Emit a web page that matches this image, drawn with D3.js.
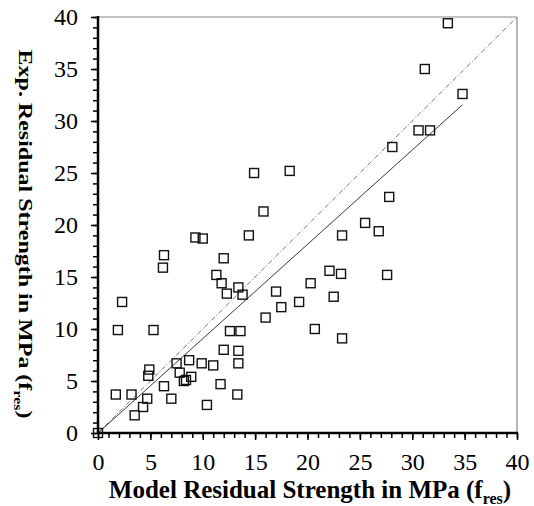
<!DOCTYPE html>
<meta charset="utf-8">
<style>
    body { margin: 0; background: #fff; }
    .tickLabel { font-family: "Liberation Serif", serif; font-size: 24px; }
    .axisTitle { font-family: "Liberation Serif", serif; font-weight: bold; font-size: 25px; text-anchor: middle; }
</style>
<body>
<script src="https://d3js.org/d3.v7.min.js"></script>
<script>
    // model (x) vs experimental (y) residual strength, MPa
    let modelRes = [9.3, 10.0, 14.4, 6.3, 6.2, 12.0, 11.3, 11.8, 13.4, 12.3, 13.8, 2.3,
        17.0, 17.5, 19.2, 20.3, 16.0, 1.9, 5.3, 12.6, 13.6, 12.0, 13.4, 7.5,
        8.7, 9.9, 11.0, 13.4, 4.9, 4.8, 7.8, 8.2, 8.4, 8.9, 6.3, 11.7,
        1.7, 3.2, 4.7, 7.0, 13.3, 4.3, 10.4, 3.5, 0.0,
        25.5, 26.8, 23.3, 22.1, 23.2, 27.6, 22.5, 20.7, 23.3,
        33.4, 31.2, 34.8, 30.6, 31.7, 28.1, 27.8, 14.9, 18.3, 15.8];
    let expRes = [18.8, 18.7, 19.0, 17.1, 15.9, 16.8, 15.2, 14.4, 14.0, 13.4, 13.3, 12.6,
        13.6, 12.1, 12.6, 14.4, 11.1, 9.9, 9.9, 9.8, 9.8, 8.0, 7.9, 6.7,
        7.0, 6.7, 6.5, 6.7, 6.1, 5.5, 5.8, 5.0, 5.1, 5.4, 4.5, 4.7,
        3.7, 3.7, 3.3, 3.3, 3.7, 2.5, 2.7, 1.7, 0.0,
        20.2, 19.4, 19.0, 15.6, 15.3, 15.2, 13.1, 10.0, 9.1,
        39.4, 35.0, 32.6, 29.1, 29.1, 27.5, 22.7, 25.0, 25.2, 21.3];
    let trendSlope = 0.907;
    let trendEnd = 34.8;
    let majorTicks = [0, 5, 10, 15, 20, 25, 30, 35, 40];
    let minorTicks = d3.range(0, 41, 1);

    let width = 534, height = 506;
    let x0 = 98, x1 = 517, yTop = 17, yBottom = 433;

    let svg = d3.select("body").append("svg")
        .attr("width", width)
        .attr("height", height);

    let x = d3.scaleLinear().domain([0, 40]).range([x0, x1]);
    let y = d3.scaleLinear().domain([0, 40]).range([yBottom, yTop]);

    // box: thin grey top/right
    svg.append("line").attr("x1", x0).attr("x2", x1).attr("y1", yTop).attr("y2", yTop)
        .attr("stroke", "#858585").attr("stroke-width", 1.2);
    svg.append("line").attr("x1", x1).attr("x2", x1).attr("y1", yTop).attr("y2", yBottom)
        .attr("stroke", "#858585").attr("stroke-width", 1.2);

    // 1:1 line
    svg.append("line")
        .attr("x1", x(0)).attr("y1", y(0)).attr("x2", x(40)).attr("y2", y(40))
        .attr("stroke", "#666").attr("stroke-width", 0.9)
        .attr("stroke-dasharray", "5,2,1,2");

    // trend line
    svg.append("line")
        .attr("x1", x(0)).attr("y1", y(0)).attr("x2", x(trendEnd)).attr("y2", y(trendSlope * trendEnd))
        .attr("stroke", "#222").attr("stroke-width", 0.9);

    // points
    let data = modelRes.map(function(d, i){ return {x: d, y: expRes[i]}; });
    let s = 9;
    svg.append("g").selectAll("rect")
        .data(data)
        .join("rect")
            .attr("x", function(d){ return x(d.x) - s/2; })
            .attr("y", function(d){ return y(d.y) - s/2; })
            .attr("width", s)
            .attr("height", s)
            .attr("fill", "none")
            .attr("stroke", "#111")
            .attr("stroke-width", 1.4);

    // axes
    function styleAxis(g){
        g.select(".domain").remove();
        g.selectAll("line").attr("stroke", "#000").attr("stroke-width", 1.5);
    }
    svg.append("g").attr("transform", "translate(0," + yBottom + ")")
        .call(d3.axisBottom(x).tickValues(minorTicks).tickSize(5).tickFormat(""))
        .call(styleAxis);
    let xAxis = svg.append("g").attr("transform", "translate(0," + yBottom + ")")
        .call(d3.axisBottom(x).tickValues(majorTicks).tickSize(7).tickPadding(13))
        .call(styleAxis);
    xAxis.selectAll("text").attr("class", "tickLabel").attr("fill", "#000");

    svg.append("g").attr("transform", "translate(" + x0 + ",0)")
        .call(d3.axisLeft(y).tickValues(minorTicks).tickSize(5).tickFormat(""))
        .call(styleAxis);
    let yAxis = svg.append("g").attr("transform", "translate(" + x0 + ",0)")
        .call(d3.axisLeft(y).tickValues(majorTicks).tickSize(7).tickPadding(13))
        .call(styleAxis);
    yAxis.selectAll("text").attr("class", "tickLabel").attr("fill", "#000");

    svg.append("line").attr("x1", x0).attr("x2", x1 + 1).attr("y1", yBottom).attr("y2", yBottom)
        .attr("stroke", "#000").attr("stroke-width", 2.5);
    svg.append("line").attr("x1", x0).attr("x2", x0).attr("y1", yTop - 1).attr("y2", yBottom)
        .attr("stroke", "#000").attr("stroke-width", 2.5);

    // titles
    let xt = svg.append("text").attr("class", "axisTitle")
        .attr("x", 310).attr("y", 498);
    xt.append("tspan").text("Model Residual Strength in MPa (f");
    xt.append("tspan").attr("font-size", 16).attr("dy", 6).text("res");
    xt.append("tspan").attr("dy", -6).text(")");

    let yt = svg.append("text").attr("class", "axisTitle")
        .style("font-size", "24px")
        .attr("transform", "translate(19,234) rotate(90) scale(1,0.78)");
    yt.append("tspan").text("Exp. Residual Strength in MPa (f");
    yt.append("tspan").attr("font-size", 16).attr("dy", 6).text("res");
    yt.append("tspan").attr("dy", -6).text(")");
</script>
</body>
